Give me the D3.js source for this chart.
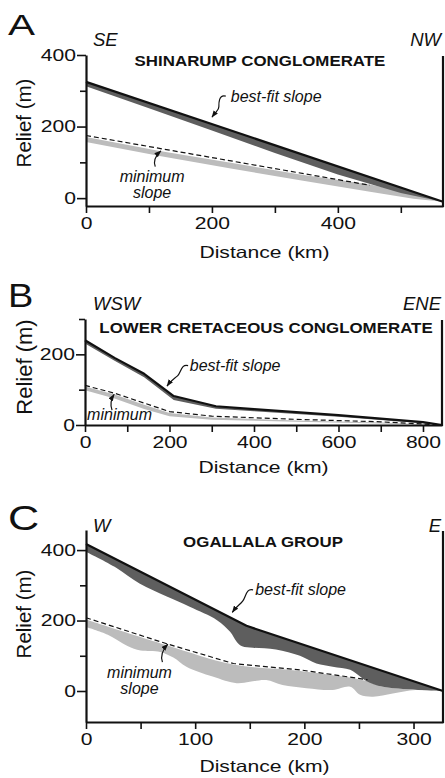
<!DOCTYPE html>
<html><head><meta charset="utf-8">
<script src="https://cdn.jsdelivr.net/npm/d3@7"></script>
<style>
body{margin:0;background:#fff}
svg{display:block}
text{font-family:"Liberation Sans",Arial,Helvetica,sans-serif;fill:#111}
</style>
</head><body>
<svg id="c" width="445" height="778"></svg>
<script>
// ===== Panel A : Shinarump Conglomerate =====
const aLetter = "A", aTitle = "SHINARUMP CONGLOMERATE", aDirs = ["SE", "NW"];
const aXTicks = [0, 100, 200, 300, 400, 500], aXLabeled = [0, 200, 400];
const aYTicks = [0, 100, 200, 300, 400], aYLabeled = [0, 200, 400];
const aBestKm = [0, 567], aBestM = [325, -10];
const aDarkKm = [0, 100, 200, 300, 400, 500, 567];
const aDarkTopM = [325, 266, 207, 148, 89, 30, -10];
const aDarkLowM = [313, 251, 189, 126, 66, 14, -10];
const aLightKm = [0, 117, 230, 340, 451, 520, 567];
const aLightTopM = [171, 132, 99, 66, 38, 12, -10];
const aLightLowM = [157, 118, 83, 50, 18, -2, -10];
const aMinKm = [0, 451], aMinM = [175, 36];
const aBestText = [230, 268], aBestArrow = [[222, 285], [200, 226]];
const aMinText = [105, 45], aMinArrow = [[110, 88], [119, 132]];

// ===== Panel B : Lower Cretaceous Conglomerate =====
const bLetter = "B", bTitle = "LOWER CRETACEOUS CONGLOMERATE", bDirs = ["WSW", "ENE"];
const bXTicks = [0, 100, 200, 300, 400, 500, 600, 700, 800], bXLabeled = [0, 200, 400, 600, 800];
const bYTicks = [0, 100, 200, 300], bYLabeled = [0, 200];
const bBestKm = [0, 70, 140, 210, 310, 400, 600, 800, 845];
const bBestM = [240, 190, 145, 82, 53, 45, 28, 8, 0];
const bDarkLowM = [231, 182, 135, 71, 46, 39, 23, 5, 0];
const bMinKm = [0, 70, 140, 200, 300, 500, 700, 845];
const bMinM = [112, 90, 62, 38, 25, 16, 9, 0];
const bLightTopM = [109, 86, 57, 34, 21, 13, 7, 0];
const bLightLowM = [98, 75, 45, 25, 15, 9, 4, 0];
const bBestText = [248, 154], bBestArrow = [[244, 168], [194, 110]];
const bMinText = [5, 14], bMinArrow = [[64, 42], [69, 87]];

// ===== Panel C : Ogallala Group =====
const cLetter = "C", cTitle = "OGALLALA GROUP", cDirs = ["W", "E"];
const cXTicks = [0, 50, 100, 150, 200, 250, 300], cXLabeled = [0, 100, 200, 300];
const cYTicks = [0, 100, 200, 300, 400], cYLabeled = [0, 200, 400];
const cBestKm = [0, 147, 327], cBestM = [417, 185, 0];
const cDarkLowKm = [0, 28, 49, 74, 95, 120, 132, 138, 143, 153, 174, 196, 211, 226, 242, 251, 257, 272, 327];
const cDarkLowM = [395, 349, 305, 268, 239, 201, 168, 140, 127, 123, 118, 100, 78, 69, 60, 41, 28, 12, 0];
const cLightTopKm = [0, 74, 135, 196, 255, 272, 327];
const cLightTopM = [203, 130, 75, 57, 30, 12, 0];
const cLightLowKm = [0, 20, 38, 50, 68, 80, 92, 116, 138, 150, 165, 180, 202, 226, 242, 251, 263, 281, 302, 327];
const cLightLowM = [182, 160, 128, 115, 111, 95, 69, 41, 22, 26, 31, 17, 8, 3, 12, -11, -16, -7, 3, 0];
const cMinKm = [0, 74, 135, 196, 258], cMinM = [208, 134, 78, 60, 32];
const cBestText = [155, 272], cBestArrow = [[153, 287], [134, 223]];
const cMinText = [49, 37], cMinArrow = [[70, 82], [75, 133]];

// ===== style =====
const DARK = "#5e5e5e", LIGHT = "#bcbcbc";
const TICK_SX = 1.28;

const svg = d3.select("#c");
const defs = svg.append("defs");
defs.append("marker").attr("id", "ah").attr("viewBox", "0 0 8 6")
  .attr("refX", 7.5).attr("refY", 3).attr("markerWidth", 7).attr("markerHeight", 5.5)
  .attr("markerUnits", "userSpaceOnUse").attr("orient", "auto")
  .append("path").attr("d", "M0,0 L8,3 L0,6 z").attr("fill", "#111");

const zip = (xs, ys) => xs.map((v, i) => [v, ys[i]]);

function txt(g, x, y, s, o) {
  return g.append("text")
    .attr("transform", `translate(${x},${y}) scale(${o.sx || 1},1)`)
    .attr("text-anchor", o.anchor || "start")
    .style("font-size", o.size + "px")
    .style("font-weight", o.weight || "normal")
    .style("font-style", o.style || "normal")
    .text(s);
}

function drawPanel(p) {
  const g = svg.append("g");
  const x = d3.scaleLinear().domain(p.xDomain).range([p.left, p.right]);
  const y = d3.scaleLinear().domain(p.yDomain).range([p.bottom, p.top]);
  const line = d3.line().x(d => x(d[0])).y(d => y(d[1]));
  const smooth = d3.line().x(d => x(d[0])).y(d => y(d[1])).curve(p.smooth ? d3.curveCatmullRom.alpha(0.5) : d3.curveLinear);
  // top edge (linear) + lower edge (optionally smoothed), closed
  const poly = (top, low, topSmooth) =>
    (topSmooth ? smooth : line)(top) + "L" + smooth(low.slice().reverse()).slice(1) + "Z";

  g.append("path").attr("d", poly(p.lightTop, p.lightLow, true)).attr("fill", LIGHT);
  g.append("path").attr("d", poly(p.darkTop, p.darkLow, false)).attr("fill", DARK);
  g.append("path").attr("d", line(p.minLine)).attr("fill", "none")
    .attr("stroke", "#111").attr("stroke-width", 1.2).attr("stroke-dasharray", "5,3");
  g.append("path").attr("d", line(p.bestLine)).attr("fill", "none")
    .attr("stroke", "#111").attr("stroke-width", 2.2).attr("stroke-linejoin", "round");

  const xa = g.append("g").attr("transform", `translate(0,${p.bottom})`)
    .call(d3.axisBottom(x).tickValues(p.xTicks).tickSize(7).tickSizeOuter(0).tickPadding(4)
      .tickFormat(d => p.xLabeled.includes(d) ? d : ""));
  xa.select(".domain").attr("stroke-width", 2.2).attr("stroke", "#111");
  xa.selectAll(".tick line").attr("stroke-width", 1.6).attr("stroke", "#111");
  xa.selectAll(".tick text").attr("transform", `scale(${TICK_SX},1)`)
    .style("font-size", "16.5px").attr("fill", "#111")
    .style("font-family", '"Liberation Sans",Arial,sans-serif');

  const ya = g.append("g").attr("transform", `translate(${p.left},0)`)
    .call(d3.axisLeft(y).tickValues(p.yTicks).tickSize(6).tickSizeOuter(0).tickPadding(4)
      .tickFormat(d => p.yLabeled.includes(d) ? d : ""));
  ya.select(".domain").attr("stroke-width", 2.2).attr("stroke", "#111");
  ya.selectAll(".tick line").attr("stroke-width", 1.6).attr("stroke", "#111")
    .attr("x2", d => p.yLabeled.includes(d) ? -9 : -6);
  ya.selectAll(".tick text").attr("transform", `scale(${TICK_SX},1)`)
    .attr("x", -10 / TICK_SX).style("font-size", "16.5px").attr("fill", "#111")
    .style("font-family", '"Liberation Sans",Arial,sans-serif');

  g.append("line").attr("x1", p.right).attr("x2", p.right).attr("y1", p.top + 1).attr("y2", p.bottom + 1)
    .attr("stroke", "#111").attr("stroke-width", 2.2);

  txt(g, (p.left + p.right) / 2, p.xTitleY, "Distance (km)", {size: 16.5, anchor: "middle", sx: TICK_SX});
  g.append("text").attr("transform", `translate(${p.yTitleX},${p.yTitleY}) rotate(-90)`)
    .attr("text-anchor", "middle").style("font-size", p.yTitleSize + "px").text("Relief (m)");

  txt(g, 8, p.letterY, p.letter, {size: p.letterSize, sx: p.letterSx});
  txt(g, 93, p.dirY, p.dirs[0], {size: 18.5, style: "italic"});
  txt(g, 441, p.dirY, p.dirs[1], {size: 18.5, style: "italic", anchor: "end"});
  txt(g, p.titleX, p.titleY, p.title, {size: 15.5, weight: "bold", anchor: "middle", sx: 1.09});

  txt(g, x(p.bestText[0]), y(p.bestText[1]), "best-fit slope", {size: 16, style: "italic"});
  const [b0, b1] = p.bestArrow.map(d => [x(d[0]), y(d[1])]);
  g.append("path")
    .attr("d", `M${b0[0]},${b0[1]} C${b0[0] - 7},${b0[1] - 2} ${b0[0] - 7},${b0[1] + 7} ${(b0[0] + b1[0]) / 2},${(b0[1] + b1[1]) / 2} S${b1[0] + 5},${b1[1] - 7} ${b1[0]},${b1[1]}`)
    .attr("fill", "none").attr("stroke", "#111").attr("stroke-width", 1.2).attr("marker-end", "url(#ah)");

  const mx = x(p.minText[0]), my = y(p.minText[1]);
  txt(g, mx, my, "minimum", {size: 16, style: "italic", anchor: p.minAnchor});
  if (p.minTwoLines) txt(g, mx, my + 16, "slope", {size: 16, style: "italic", anchor: p.minAnchor});
  const [m0, m1] = p.minArrow.map(d => [x(d[0]), y(d[1])]);
  g.append("path")
    .attr("d", `M${m0[0]},${m0[1]} Q${m0[0] - 3},${(m0[1] + m1[1]) / 2} ${m1[0]},${m1[1]}`)
    .attr("fill", "none").attr("stroke", "#111").attr("stroke-width", 1.2).attr("marker-end", "url(#ah)");
}

drawPanel({
  left: 86, right: 443, top: 55, bottom: 206, xDomain: [0, 567], yDomain: [-22, 400], smooth: false,
  xTicks: aXTicks, xLabeled: aXLabeled, yTicks: aYTicks, yLabeled: aYLabeled,
  bestLine: zip(aBestKm, aBestM), darkTop: zip(aDarkKm, aDarkTopM), darkLow: zip(aDarkKm, aDarkLowM),
  lightTop: zip(aLightKm, aLightTopM), lightLow: zip(aLightKm, aLightLowM), minLine: zip(aMinKm, aMinM),
  bestText: aBestText, bestArrow: aBestArrow, minText: aMinText, minArrow: aMinArrow,
  minAnchor: "middle", minTwoLines: true,
  letter: aLetter, letterY: 35, letterSize: 30, letterSx: 1.35,
  dirs: aDirs, dirY: 46, title: aTitle, titleX: 260, titleY: 66,
  xTitleY: 258, yTitleX: 31, yTitleY: 123, yTitleSize: 20.5
});

drawPanel({
  left: 85, right: 442, top: 319, bottom: 425, xDomain: [0, 845], yDomain: [0, 300], smooth: false,
  xTicks: bXTicks, xLabeled: bXLabeled, yTicks: bYTicks, yLabeled: bYLabeled,
  bestLine: zip(bBestKm, bBestM), darkTop: zip(bBestKm, bBestM), darkLow: zip(bBestKm, bDarkLowM),
  lightTop: zip(bMinKm, bLightTopM), lightLow: zip(bMinKm, bLightLowM), minLine: zip(bMinKm, bMinM),
  bestText: bBestText, bestArrow: bBestArrow, minText: bMinText, minArrow: bMinArrow,
  minAnchor: "start", minTwoLines: false,
  letter: bLetter, letterY: 307, letterSize: 33, letterSx: 1.15,
  dirs: bDirs, dirY: 310, title: bTitle, titleX: 266, titleY: 333,
  xTitleY: 473, yTitleX: 32, yTitleY: 367, yTitleSize: 22
});

drawPanel({
  left: 86, right: 443, top: 530, bottom: 722, xDomain: [0, 327], yDomain: [-88, 457], smooth: true,
  xTicks: cXTicks, xLabeled: cXLabeled, yTicks: cYTicks, yLabeled: cYLabeled,
  bestLine: zip(cBestKm, cBestM), darkTop: zip(cBestKm, cBestM), darkLow: zip(cDarkLowKm, cDarkLowM),
  lightTop: zip(cLightTopKm, cLightTopM), lightLow: zip(cLightLowKm, cLightLowM), minLine: zip(cMinKm, cMinM),
  bestText: cBestText, bestArrow: cBestArrow, minText: cMinText, minArrow: cMinArrow,
  minAnchor: "middle", minTwoLines: true,
  letter: cLetter, letterY: 530, letterSize: 36, letterSx: 1.2,
  dirs: cDirs, dirY: 532, title: cTitle, titleX: 263, titleY: 547,
  xTitleY: 772, yTitleX: 31, yTitleY: 614, yTitleSize: 20.5
});
</script>
</body></html>
